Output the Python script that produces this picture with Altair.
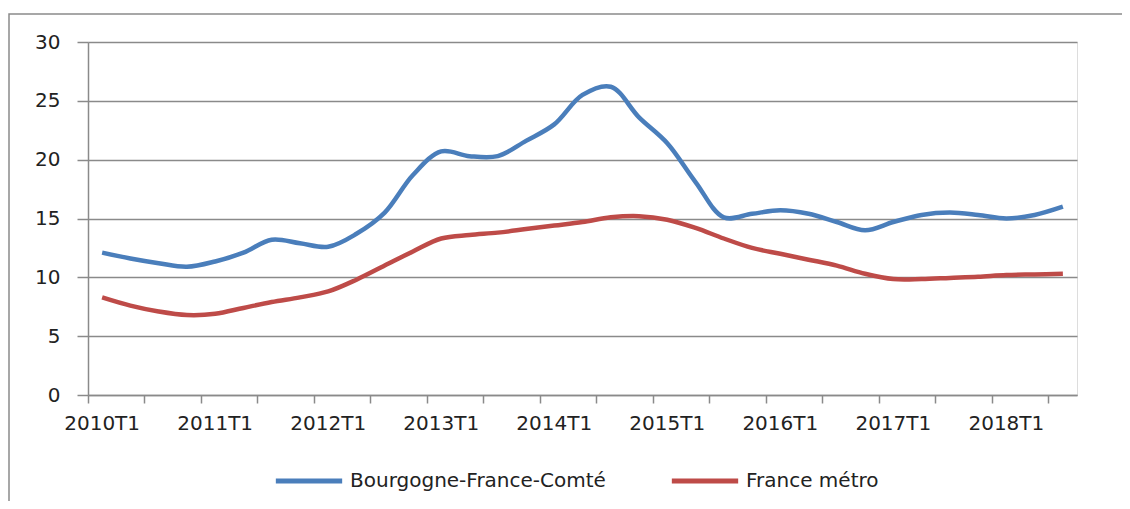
import altair as alt
import pandas as pd

quarters = [
    "2010T1", "2010T2", "2010T3", "2010T4",
    "2011T1", "2011T2", "2011T3", "2011T4",
    "2012T1", "2012T2", "2012T3", "2012T4",
    "2013T1", "2013T2", "2013T3", "2013T4",
    "2014T1", "2014T2", "2014T3", "2014T4",
    "2015T1", "2015T2", "2015T3", "2015T4",
    "2016T1", "2016T2", "2016T3", "2016T4",
    "2017T1", "2017T2", "2017T3", "2017T4",
    "2018T1", "2018T2", "2018T3",
]

bourgogne = [
    12.1, 11.6, 11.2, 10.9, 11.35, 12.1, 13.2, 12.9, 12.6, 13.7,
    15.5, 18.7, 20.7, 20.3, 20.3, 21.6, 23.0, 25.5, 26.2, 23.6,
    21.4, 18.1, 15.1, 15.4, 15.7, 15.4, 14.7, 14.0, 14.7, 15.3,
    15.5, 15.3, 15.0, 15.3, 16.0,
]

france = [
    8.3, 7.6, 7.1, 6.8, 6.9, 7.4, 7.9, 8.3, 8.8, 9.8,
    11.0, 12.2, 13.3, 13.6, 13.8, 14.1, 14.4, 14.7, 15.1, 15.2,
    14.9, 14.2, 13.3, 12.5, 12.0, 11.5, 11.0, 10.3, 9.85, 9.85,
    9.95, 10.05, 10.2, 10.25, 10.3,
]

series_names = ["Bourgogne-France-Comté", "France métro"]
series_colors = ["#4A7EBB", "#BE4B48"]
y_ticks = [0, 5, 10, 15, 20, 25, 30]

df = pd.DataFrame({
    "trimestre": quarters * 2,
    "valeur": bourgogne + france,
    "serie": [series_names[0]] * len(quarters) + [series_names[1]] * len(quarters),
})

label_values = quarters[::4]
tick_values = quarters[::2]

FONT = "DejaVu Sans"
TEXT = "#222222"
GRID = "#8a8a8a"

x_scale = alt.Scale(type="band", paddingInner=0, paddingOuter=0)

y_enc = alt.Y(
    "valeur:Q",
    scale=alt.Scale(domain=[0, 30], nice=False, zero=True),
    axis=alt.Axis(
        values=y_ticks,
        title=None,
        grid=True,
        gridColor=GRID,
        gridWidth=1.5,
        domainColor=GRID,
        domainWidth=1.5,
        tickColor=GRID,
        tickWidth=1.5,
        tickSize=11,
        labelPadding=17,
        labelFont=FONT,
        labelFontSize=20,
        labelColor=TEXT,
    ),
)

# invisible layer carrying the tick marks placed at category boundaries
ticks_layer = alt.Chart(df).mark_line(strokeOpacity=0).encode(
    x=alt.X(
        "trimestre:N",
        sort=quarters,
        scale=x_scale,
        axis=alt.Axis(
            orient="bottom",
            values=tick_values,
            bandPosition=0,
            labels=False,
            title=None,
            grid=False,
            domain=False,
            tickColor=GRID,
            tickWidth=1.5,
            tickSize=8,
        ),
    ),
    y=alt.Y("valeur:Q"),
    detail="serie:N",
)

lines = alt.Chart(df).mark_line(strokeWidth=4.5, interpolate="catmull-rom").encode(
    x=alt.X(
        "trimestre:N",
        sort=quarters,
        scale=x_scale,
        axis=alt.Axis(
            orient="bottom",
            values=label_values,
            labelAngle=0,
            title=None,
            grid=False,
            ticks=False,
            domainColor=GRID,
            domainWidth=1.5,
            labelPadding=18,
            labelFont=FONT,
            labelFontSize=20,
            labelColor=TEXT,
        ),
    ),
    y=y_enc,
    color=alt.Color(
        "serie:N",
        sort=series_names,
        scale=alt.Scale(domain=series_names, range=series_colors),
        legend=alt.Legend(
            title=None,
            orient="none",
            direction="horizontal",
            legendX=185,
            legendY=403,
            symbolType="stroke",
            symbolSize=4400,
            symbolStrokeWidth=5,
            labelFont=FONT,
            labelFontSize=20,
            labelColor=TEXT,
            labelLimit=0,
            labelOffset=5,
            columnPadding=55,
        ),
    ),
)

frame = alt.Chart(alt.Data(values=[{"f": 1}])).mark_rect(
    fill=None, stroke="#8a8a8a", strokeWidth=1.5
).encode(
    x=alt.value(-79), x2=alt.value(1200), y=alt.value(-28), y2=alt.value(700)
)

chart = alt.layer(frame, ticks_layer, lines).resolve_axis(x="independent").properties(
    width=989,
    height=353,
    autosize=alt.AutoSizeParams(type="none"),
    padding={"left": 80, "top": 34, "right": 45, "bottom": 106},
).configure_view(stroke=None).configure(background="white")

chart.save("out.html", embed_options={"renderer": "svg", "actions": False})
